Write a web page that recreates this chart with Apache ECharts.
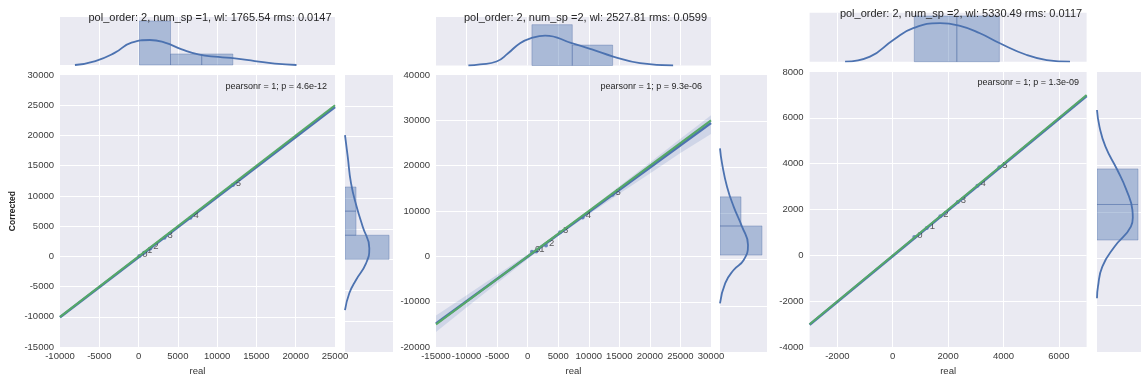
<!DOCTYPE html>
<html>
<head>
<meta charset="utf-8">
<script src="https://cdn.jsdelivr.net/npm/echarts@6/dist/echarts.min.js"></script>
<style>
html, body { margin: 0; padding: 0; background: #ffffff; }
#chart { width: 1141px; height: 381px; }
</style>
</head>
<body>
<div id="chart"></div>
<script>
// ---------- shared text ----------
const pointLabels = ['0', '1', '2', '3', '4', '5'];
const titles = [
  'pol_order: 2, num_sp =1, wl: 1765.54 rms: 0.0147',
  'pol_order: 2, num_sp =2, wl: 2527.81 rms: 0.0599',
  'pol_order: 2, num_sp =2, wl: 5330.49 rms: 0.0117'
];
const pearsonTexts = [
  'pearsonr = 1; p = 4.6e-12',
  'pearsonr = 1; p = 9.3e-06',
  'pearsonr = 1; p = 1.3e-09'
];

// ---------- panel 1 ----------
const real1 = [100, 700, 1500, 3300, 6600, 12000];
const corrected1 = [50, 600, 1300, 3100, 6400, 11800];
const regLine1 = [[-10000, -10050], [25000, 24700]];
const refLine1 = [[-10000, -10000], [25000, 25000]];
const histRealEdges1 = [100, 4067, 8033, 12000];
const histRealCounts1 = [4, 1, 1];
const histCorrEdges1 = [50, 3967, 7883, 11800];
const histCorrCounts1 = [4, 1, 1];
const kdeReal1 = [[-8100, 0], [-5500, 0.36], [-3000, 1.12], [-900, 2.03], [1450, 2.27], [3350, 2.03],
  [5500, 1.42], [7600, 0.96], [10150, 0.73], [12250, 0.6], [14800, 0.36], [17350, 0.12], [20100, 0]];
const kdeCorr1 = [[20250, 0], [16700, 0.25], [12400, 0.55], [8600, 1.06], [5350, 1.61], [1850, 2.21],
  [-600, 1.91], [-3300, 1.0], [-5450, 0.39], [-8200, 0]];

// ---------- panel 2 ----------
const real2 = [700, 1400, 3000, 5300, 9000, 13900];
const corrected2 = [1000, 1100, 2400, 5300, 8600, 13600];
const regLine2 = [[-15000, -14800], [30000, 29400]];
const refLine2 = [[-15000, -15000], [30000, 30000]];
const bandX2 = [-15000, -10000, -5000, 0, 5000, 10000, 15000, 20000, 25000, 30000];
const bandLow2 = [-16650, -11250, -5900, -600, 4500, 9250, 13800, 18300, 22800, 27000];
const bandHigh2 = [-13050, -8550, -4050, 450, 5150, 10250, 15450, 20700, 25950, 31150];
const histRealEdges2 = [700, 7300, 13900];
const histRealCounts2 = [4, 2];
const histCorrEdges2 = [1000, 7300, 13600];
const histCorrCounts2 = [4, 2];
const kdeReal2 = [[-9700, 0], [-7800, 0.1], [-5100, 0.39], [-3200, 1.2], [-1250, 2.19], [650, 2.7],
  [2850, 2.93], [7200, 2.19], [10750, 1.53], [14000, 0.88], [18400, 0.23], [23800, 0]];
const kdeCorr2 = [[24100, 0], [20900, 0.19], [15800, 0.67], [11500, 1.3], [7150, 2.1], [3200, 2.67],
  [-70, 2.26], [-2250, 1.3], [-5100, 0.5], [-9450, 0]];

// ---------- panel 3 ----------
const real3 = [780, 1230, 1720, 2350, 3060, 3850];
const corrected3 = [800, 1190, 1710, 2330, 3040, 3845];
const regLine3 = [[-3000, -3020], [7000, 6950]];
const refLine3 = [[-3000, -3000], [7000, 7000]];
const histRealEdges3 = [780, 2315, 3850];
const histRealCounts3 = [3, 3];
const histCorrEdges3 = [800, 2322, 3845];
const histCorrCounts3 = [3, 3];
const kdeReal3 = [[-1720, 0], [-820, 0.33], [20, 1.43], [740, 2.2], [1710, 2.53], [2430, 2.35],
  [3150, 1.87], [3870, 1.21], [4840, 0.44], [5560, 0.11], [6400, 0]];
const kdeCorr3 = [[6370, 0], [5660, 0.18], [4800, 0.62], [3800, 1.49], [2950, 2.15], [2090, 2.59],
  [1750, 2.62], [1370, 2.48], [510, 1.28], [-340, 0.39], [-1200, 0.07], [-1700, 0]];

// ---------- styling ----------
const FONT = '"Liberation Sans", Arial, sans-serif';
const BLUE = '#4C72B0';
const GREEN = '#55A868';
const BG = '#EAEAF2';
const TICK = '#3a3a3a';
const BAR_FILL = 'rgba(76,114,176,0.4)';
const BAR_EDGE = 'rgba(70,100,160,0.35)';

const panels = [
  {
    title: titles[0], titlePos: [210, 18], pearson: pearsonTexts[0], pearsonPos: [327, 87],
    real: real1, corr: corrected1, reg: regLine1, ref: refLine1, band: null,
    hx: [histRealEdges1, histRealCounts1], hy: [histCorrEdges1, histCorrCounts1],
    kx: kdeReal1, ky: kdeCorr1,
    xr: { min: -10000, max: 25000, interval: 5000 },
    yr: { min: -15000, max: 30000, interval: 5000 },
    main: { left: 60, top: 75, width: 275, height: 277 },
    top: { left: 60, top: 17, width: 275, height: 48 },
    right: { left: 345, top: 75, width: 48, height: 277 },
    topMax: 4.36, rightMax: 4.36, yName: 'Corrected'
  },
  {
    title: titles[1], titlePos: [585.5, 17.5], pearson: pearsonTexts[1], pearsonPos: [702, 87],
    real: real2, corr: corrected2, reg: regLine2, ref: refLine2,
    band: [bandX2, bandLow2, bandHigh2],
    hx: [histRealEdges2, histRealCounts2], hy: [histCorrEdges2, histCorrCounts2],
    kx: kdeReal2, ky: kdeCorr2,
    xr: { min: -15000, max: 30000, interval: 5000 },
    yr: { min: -20000, max: 40000, interval: 10000 },
    main: { left: 436, top: 75, width: 275, height: 277 },
    top: { left: 436, top: 17, width: 275, height: 48.5 },
    right: { left: 720, top: 75, width: 47, height: 277 },
    topMax: 4.75, rightMax: 4.48, yName: ''
  },
  {
    title: titles[2], titlePos: [961, 13.5], pearson: pearsonTexts[2], pearsonPos: [1079, 83],
    real: real3, corr: corrected3, reg: regLine3, ref: refLine3, band: null,
    hx: [histRealEdges3, histRealCounts3], hy: [histCorrEdges3, histCorrCounts3],
    kx: kdeReal3, ky: kdeCorr3,
    // -3000 is not a multiple of the 2000 step, so the step is left to the library
    xr: { min: -3000, max: 7000, splitNumber: 5 },
    yr: { min: -4000, max: 8000, interval: 2000 },
    main: { left: 809.6, top: 72, width: 277, height: 280 },
    top: { left: 809.6, top: 12.7, width: 277, height: 49 },
    right: { left: 1097, top: 72, width: 49, height: 280 },
    topMax: 3.22, rightMax: 3.22, yName: ''
  }
];

function fmt(v) {
  return String(v);
}

function gridOf(box) {
  return Object.assign({ show: true, backgroundColor: BG, borderWidth: 0, containLabel: false }, box);
}

const whiteSplit = {
  show: true, showMinLine: false, showMaxLine: false,
  lineStyle: { color: '#ffffff', width: 1 }
};
const hiddenBits = { axisLine: { show: false }, axisTick: { show: false } };

function tickLabels(range, margin) {
  return {
    show: true, fontFamily: FONT, fontSize: 9.5, color: TICK, formatter: fmt, margin,
    hideOverlap: false,
    showMinLabel: !!range.interval, showMaxLabel: !!range.interval
  };
}

function dataAxis(gridIndex, range, extra) {
  const ax = Object.assign({
    gridIndex, type: 'value', min: range.min, max: range.max,
    splitLine: whiteSplit,
    axisLabel: { show: false }
  }, hiddenBits, extra || {});
  if (range.interval) ax.interval = range.interval;
  if (range.splitNumber) ax.splitNumber = range.splitNumber;
  return ax;
}

function countAxis(gridIndex, max) {
  return Object.assign({
    gridIndex, type: 'value', min: 0, max,
    splitLine: { show: false }, axisLabel: { show: false }
  }, hiddenBits);
}

const grids = [], xAxes = [], yAxes = [], series = [], graphics = [];

panels.forEach((p, k) => {
  const gm = 3 * k, gt = 3 * k + 1, gr = 3 * k + 2;
  grids.push(gridOf(p.main), gridOf(p.top), gridOf(p.right));

  // main axes
  xAxes.push(dataAxis(gm, p.xr, {
    name: 'real', nameLocation: 'middle', nameGap: 18,
    nameTextStyle: { fontFamily: FONT, fontSize: 9.5, color: '#333333' },
    axisLabel: tickLabels(p.xr, 4)
  }));
  yAxes.push(dataAxis(gm, p.yr, {
    name: p.yName, nameLocation: 'middle', nameGap: 43,
    nameTextStyle: { fontFamily: FONT, fontSize: 8.5, fontWeight: 'bold', color: '#262626' },
    axisLabel: tickLabels(p.yr, 6)
  }));
  // top marginal: shares x range
  xAxes.push(dataAxis(gt, p.xr));
  yAxes.push(countAxis(gt, p.topMax));
  // right marginal: shares y range
  xAxes.push(countAxis(gr, p.rightMax));
  yAxes.push(dataAxis(gr, p.yr));

  // confidence band of the fit
  if (p.band) {
    const [bx, lo, hi] = p.band;
    series.push({
      type: 'custom', xAxisIndex: gm, yAxisIndex: gm, silent: true, clip: true, z: 2,
      data: [[bx[0], lo[0]]],
      encode: { x: 0, y: 1 },
      renderItem(params, api) {
        const pts = bx.map((x, i) => api.coord([x, hi[i]]));
        for (let i = bx.length - 1; i >= 0; i--) pts.push(api.coord([bx[i], lo[i]]));
        return { type: 'polygon', shape: { points: pts }, style: { fill: 'rgba(76,114,176,0.17)' } };
      }
    });
  }
  // fitted line
  series.push({
    type: 'line', xAxisIndex: gm, yAxisIndex: gm, data: p.reg, symbol: 'none', silent: true, z: 3,
    lineStyle: { color: BLUE, width: 2.6 }
  });
  // observations with their index labels
  series.push({
    type: 'scatter', xAxisIndex: gm, yAxisIndex: gm, z: 4, silent: true,
    data: p.real.map((x, i) => [x, p.corr[i], pointLabels[i]]),
    symbol: 'circle', symbolSize: 4,
    itemStyle: { color: BLUE },
    label: {
      show: true, position: 'right', distance: 1, offset: [0, -2],
      formatter: (d) => d.data[2], fontFamily: FONT, fontSize: 9.5, color: '#333333'
    }
  });
  // identity line
  series.push({
    type: 'line', xAxisIndex: gm, yAxisIndex: gm, data: p.ref, symbol: 'none', silent: true, z: 5,
    lineStyle: { color: GREEN, width: 2 }
  });

  // top marginal histogram + density
  const [ex, cx] = p.hx;
  series.push({
    type: 'custom', xAxisIndex: gt, yAxisIndex: gt, silent: true, z: 2,
    data: cx.map((c, i) => [ex[i], ex[i + 1], c]),
    encode: { x: [0, 1], y: 2 },
    renderItem(params, api) {
      const a = api.coord([api.value(0), 0]);
      const b = api.coord([api.value(1), api.value(2)]);
      return {
        type: 'rect',
        shape: { x: a[0], y: b[1], width: b[0] - a[0], height: a[1] - b[1] },
        style: { fill: BAR_FILL, stroke: BAR_EDGE, lineWidth: 1 }
      };
    }
  });
  series.push({
    type: 'line', xAxisIndex: gt, yAxisIndex: gt, data: p.kx, symbol: 'none', silent: true, z: 3,
    smooth: 0.5, lineStyle: { color: BLUE, width: 1.8 }
  });

  // right marginal histogram + density
  const [ey, cy] = p.hy;
  series.push({
    type: 'custom', xAxisIndex: gr, yAxisIndex: gr, silent: true, z: 2, clip: true,
    data: cy.map((c, i) => [c, ey[i], ey[i + 1]]),
    encode: { x: 0, y: [1, 2] },
    renderItem(params, api) {
      const a = api.coord([0, api.value(1)]);
      const b = api.coord([api.value(0), api.value(2)]);
      return {
        type: 'rect',
        shape: { x: a[0], y: b[1], width: b[0] - a[0], height: a[1] - b[1] },
        style: { fill: BAR_FILL, stroke: BAR_EDGE, lineWidth: 1 }
      };
    }
  });
  series.push({
    type: 'line', xAxisIndex: gr, yAxisIndex: gr, data: p.ky.map((d) => [d[1], d[0]]),
    symbol: 'none', silent: true, z: 3,
    smooth: 0.5, lineStyle: { color: BLUE, width: 1.8 }
  });

  // panel title and correlation note
  graphics.push({
    type: 'text', x: p.titlePos[0], y: p.titlePos[1], z: 100, silent: true,
    style: { text: p.title, fill: '#262626', font: '11px ' + FONT, align: 'center', verticalAlign: 'middle' }
  });
  graphics.push({
    type: 'text', x: p.pearsonPos[0], y: p.pearsonPos[1], z: 100, silent: true,
    style: { text: p.pearson, fill: '#262626', font: '9px ' + FONT, align: 'right', verticalAlign: 'middle' }
  });
});

const chart = echarts.init(document.getElementById('chart'), null, { renderer: 'canvas' });
chart.setOption({
  backgroundColor: '#ffffff',
  animation: false,
  grid: grids,
  xAxis: xAxes,
  yAxis: yAxes,
  series,
  graphic: graphics
});
</script>
</body>
</html>
